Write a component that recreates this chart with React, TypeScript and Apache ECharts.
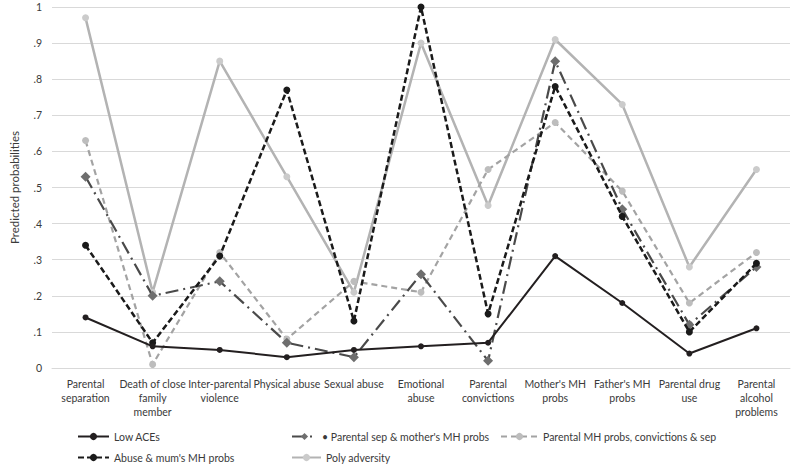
import React, { useEffect, useRef } from "react";
import * as echarts from "echarts";

const categories = [
  "Parental\nseparation",
  "Death of close\nfamily\nmember",
  "Inter-parental\nviolence",
  "Physical abuse",
  "Sexual abuse",
  "Emotional\nabuse",
  "Parental\nconvictions",
  "Mother's MH\nprobs",
  "Father's MH\nprobs",
  "Parental drug\nuse",
  "Parental\nalcohol\nproblems",
];

const lowACEs = [0.14, 0.06, 0.05, 0.03, 0.05, 0.06, 0.07, 0.31, 0.18, 0.04, 0.11];
const sepMother = [0.53, 0.2, 0.24, 0.07, 0.03, 0.26, 0.02, 0.85, 0.44, 0.12, 0.28];
const mhConvSep = [0.63, 0.01, 0.32, 0.08, 0.24, 0.21, 0.55, 0.68, 0.49, 0.18, 0.32];
const abuseMum = [0.34, 0.07, 0.31, 0.77, 0.13, 1.0, 0.15, 0.78, 0.42, 0.1, 0.29];
const poly = [0.97, 0.21, 0.85, 0.53, 0.21, 0.9, 0.45, 0.91, 0.73, 0.28, 0.55];

const yTicks = ["0", ".1", ".2", ".3", ".4", ".5", ".6", ".7", ".8", ".9", "1"];

const FONT = "Lato";

export default function App() {
  const ref = useRef<HTMLDivElement>(null);
  useEffect(() => {
    if (!ref.current) return;
    const chart = echarts.init(ref.current, null, { renderer: "svg" });
    const legendText = { fontFamily: FONT, fontSize: 10.5, color: "#3a3a3a" };
    const mkLegend = (name: string, left: number, top: number, w: number) => ({
      data: [name],
      left,
      top,
      itemWidth: w,
      itemHeight: 9,
      padding: 0,
      selectedMode: false,
      textStyle: legendText,
    });
    chart.setOption({
      animation: false,
      backgroundColor: "#ffffff",
      grid: { left: 40, right: 8, top: 7, bottom: 99 },
      legend: [
        mkLegend("Low ACEs", 77, 431, 31),
        mkLegend("• Parental sep & mother's MH probs", 291, 431, 25),
        mkLegend("Parental MH probs, convictions & sep", 500, 431, 37),
        mkLegend("Abuse & mum's MH probs", 77, 452, 31),
        mkLegend("Poly adversity", 291, 452, 29),
      ],
      xAxis: {
        type: "category",
        data: categories,
        boundaryGap: true,
        axisLine: { lineStyle: { color: "#d9d9d9", width: 1 } },
        axisTick: { show: false },
        axisLabel: {
          interval: 0,
          margin: 9,
          fontFamily: FONT,
          fontSize: 10.5,
          lineHeight: 14,
          color: "#3a3a3a",
          align: "center",
        },
      },
      yAxis: {
        type: "value",
        min: 0,
        max: 1,
        interval: 0.1,
        name: "Predicted probabilities",
        nameLocation: "middle",
        nameGap: 32,
        nameTextStyle: { fontFamily: FONT, fontSize: 11.5, color: "#3a3a3a" },
        axisLine: { show: false },
        axisTick: { show: false },
        splitLine: { lineStyle: { color: "#d9d9d9", width: 1 } },
        axisLabel: {
          margin: 10,
          fontFamily: FONT,
          fontSize: 10.5,
          color: "#3a3a3a",
          formatter: (v: number) => yTicks[Math.round(v * 10)],
        },
      },
      series: [
        {
          name: "Poly adversity",
          type: "line",
          data: poly,
          symbol: "circle",
          symbolSize: 7,
          itemStyle: { color: "#cbcbcb" },
          lineStyle: { color: "#b3b3b3", width: 2.5, type: "solid" },
          z: 1,
        },
        {
          name: "Parental MH probs, convictions & sep",
          type: "line",
          data: mhConvSep,
          symbol: "circle",
          symbolSize: 7,
          itemStyle: { color: "#bdbdbd" },
          lineStyle: { color: "#a3a3a3", width: 2.2, type: [6, 4] },
          z: 2,
        },
        {
          name: "• Parental sep & mother's MH probs",
          type: "line",
          data: sepMother,
          symbol: "diamond",
          symbolSize: 10,
          itemStyle: { color: "#6e6e6e" },
          lineStyle: { color: "#4a4a4a", width: 2.2, type: [13, 5, 2, 5] },
          z: 3,
        },
        {
          name: "Abuse & mum's MH probs",
          type: "line",
          data: abuseMum,
          symbol: "circle",
          symbolSize: 7,
          itemStyle: { color: "#1a1a1a" },
          lineStyle: { color: "#1a1a1a", width: 2.5, type: [6, 3] },
          z: 4,
        },
        {
          name: "Low ACEs",
          type: "line",
          data: lowACEs,
          symbol: "circle",
          symbolSize: 6,
          itemStyle: { color: "#231f20" },
          lineStyle: { color: "#231f20", width: 2, type: "solid" },
          z: 5,
        },
      ],
    });
    return () => chart.dispose();
  }, []);
  return (
    <div
      ref={ref}
      style={{ position: "fixed", left: 0, top: 0, width: 798, height: 467, background: "#fff" }}
    />
  );
}
